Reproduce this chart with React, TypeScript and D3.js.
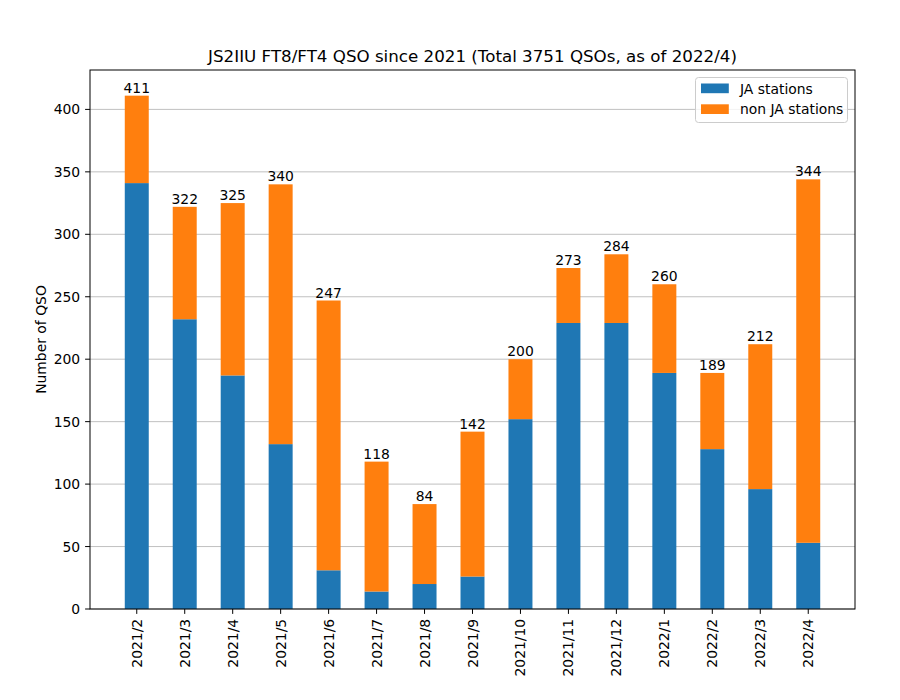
import { useEffect, useRef } from 'react';
import * as d3 from 'd3';

const months = [
  '2021/2', '2021/3', '2021/4', '2021/5', '2021/6', '2021/7', '2021/8', '2021/9',
  '2021/10', '2021/11', '2021/12', '2022/1', '2022/2', '2022/3', '2022/4',
];
const totals = [411, 322, 325, 340, 247, 118, 84, 142, 200, 273, 284, 260, 189, 212, 344];
const jaStations = [341, 232, 187, 132, 31, 14, 20, 26, 152, 229, 229, 189, 128, 96, 53];
const yTicks = [0, 50, 100, 150, 200, 250, 300, 350, 400];

const BLUE = '#1f77b4';
const ORANGE = '#ff7f0e';
const FONT = 'DejaVu Sans, sans-serif';

function drawChart(svgElement: SVGSVGElement) {
  const svg = d3.select(svgElement);
  svg.selectAll('*').remove();

  const width = 900;
  const height = 700;
  const margin = { top: 70, right: 45, bottom: 91, left: 90 };
  const x0 = margin.left;
  const x1 = width - margin.right;
  const y0 = height - margin.bottom;
  const y1 = margin.top;

  const x = d3.scaleLinear().domain([-0.975, months.length - 1 + 0.975]).range([x0, x1]);
  const y = d3.scaleLinear().domain([0, (d3.max(totals) ?? 1) * 1.05]).range([y0, y1]);
  const barW = x(0.5) - x(0);

  svg.attr('width', width).attr('height', height).attr('viewBox', `0 0 ${width} ${height}`);
  svg.append('rect').attr('width', width).attr('height', height).attr('fill', '#fff');

  // grid
  svg
    .append('g')
    .selectAll('line')
    .data(yTicks)
    .join('line')
    .attr('x1', x0)
    .attr('x2', x1)
    .attr('y1', (d: number) => y(d))
    .attr('y2', (d: number) => y(d))
    .attr('stroke', '#b0b0b0')
    .attr('stroke-width', 0.8);

  const idx = months.map((_, i) => i);

  // JA bars
  svg
    .append('g')
    .selectAll('rect')
    .data(idx)
    .join('rect')
    .attr('x', (i: number) => x(i) - barW / 2)
    .attr('y', (i: number) => y(jaStations[i]))
    .attr('width', barW)
    .attr('height', (i: number) => y(0) - y(jaStations[i]))
    .attr('fill', BLUE);

  // non JA bars
  svg
    .append('g')
    .selectAll('rect')
    .data(idx)
    .join('rect')
    .attr('x', (i: number) => x(i) - barW / 2)
    .attr('y', (i: number) => y(totals[i]))
    .attr('width', barW)
    .attr('height', (i: number) => y(jaStations[i]) - y(totals[i]))
    .attr('fill', ORANGE);

  // bar labels
  svg
    .append('g')
    .selectAll('text')
    .data(idx)
    .join('text')
    .attr('x', (i: number) => x(i))
    .attr('y', (i: number) => y(totals[i]) - 3)
    .attr('text-anchor', 'middle')
    .attr('font-family', FONT)
    .attr('font-size', 13.9)
    .attr('fill', '#000')
    .text((i: number) => String(totals[i]));

  // frame
  svg
    .append('rect')
    .attr('x', x0)
    .attr('y', y1)
    .attr('width', x1 - x0)
    .attr('height', y0 - y1)
    .attr('fill', 'none')
    .attr('stroke', '#000')
    .attr('stroke-width', 1);

  // y ticks
  const yg = svg.append('g');
  yg.selectAll('line')
    .data(yTicks)
    .join('line')
    .attr('x1', x0 - 4.9)
    .attr('x2', x0)
    .attr('y1', (d: number) => y(d))
    .attr('y2', (d: number) => y(d))
    .attr('stroke', '#000')
    .attr('stroke-width', 1);
  yg.selectAll('text')
    .data(yTicks)
    .join('text')
    .attr('x', x0 - 9.8)
    .attr('y', (d: number) => y(d))
    .attr('dy', '0.36em')
    .attr('text-anchor', 'end')
    .attr('font-family', FONT)
    .attr('font-size', 13.9)
    .text((d: number) => String(d));

  // x ticks
  const xg = svg.append('g');
  xg.selectAll('line')
    .data(idx)
    .join('line')
    .attr('x1', (i: number) => x(i))
    .attr('x2', (i: number) => x(i))
    .attr('y1', y0)
    .attr('y2', y0 + 4.9)
    .attr('stroke', '#000')
    .attr('stroke-width', 1);
  xg.selectAll('text')
    .data(idx)
    .join('text')
    .attr('transform', (i: number) => `translate(${x(i)},${y0 + 9.8}) rotate(-90)`)
    .attr('dy', '0.36em')
    .attr('text-anchor', 'end')
    .attr('font-family', FONT)
    .attr('font-size', 13.9)
    .text((i: number) => months[i]);

  // y label
  svg
    .append('text')
    .attr('transform', `translate(46,${(y0 + y1) / 2}) rotate(-90)`)
    .attr('text-anchor', 'middle')
    .attr('font-family', FONT)
    .attr('font-size', 13.9)
    .text('Number of QSO');

  // title
  svg
    .append('text')
    .attr('x', (x0 + x1) / 2)
    .attr('y', 62)
    .attr('text-anchor', 'middle')
    .attr('font-family', FONT)
    .attr('font-size', 16.7)
    .text('JS2IIU FT8/FT4 QSO since 2021 (Total 3751 QSOs, as of 2022/4)');

  // legend
  const legend = svg.append('g');
  legend
    .append('rect')
    .attr('x', 695.5)
    .attr('y', 77.5)
    .attr('width', 152)
    .attr('height', 45)
    .attr('rx', 3)
    .attr('fill', '#fff')
    .attr('fill-opacity', 0.8)
    .attr('stroke', '#cccccc')
    .attr('stroke-width', 1);
  const entries = [
    { label: 'JA stations', color: BLUE },
    { label: 'non JA stations', color: ORANGE },
  ];
  entries.forEach((e, k) => {
    const cy = 88.5 + k * 20.8;
    legend
      .append('rect')
      .attr('x', 701)
      .attr('y', cy - 5)
      .attr('width', 27.8)
      .attr('height', 9.7)
      .attr('fill', e.color);
    legend
      .append('text')
      .attr('x', 740)
      .attr('y', cy)
      .attr('dy', '0.36em')
      .attr('font-family', FONT)
      .attr('font-size', 13.9)
      .text(e.label);
  });
}

export default function App() {
  const ref = useRef<SVGSVGElement>(null);

  useEffect(() => {
    if (ref.current) {
      drawChart(ref.current);
    }
  }, []);

  return (
    <div style={{ position: 'absolute', left: 0, top: 0, width: 900, height: 700 }}>
      <svg ref={ref} width={900} height={700} style={{ display: 'block' }} />
    </div>
  );
}
